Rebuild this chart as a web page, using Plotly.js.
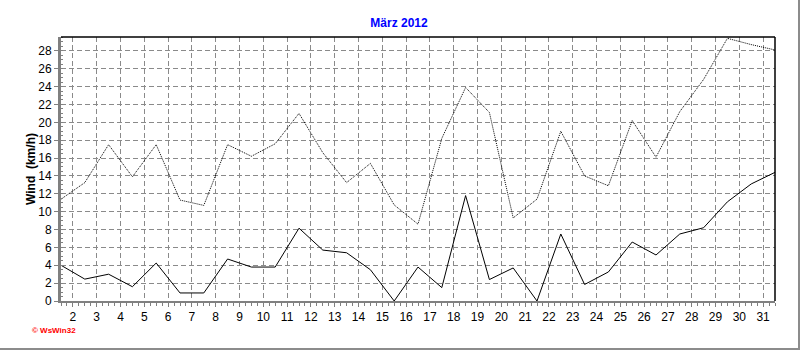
<!DOCTYPE html>
<html>
<head>
<meta charset="utf-8">
<script src="https://cdn.plot.ly/plotly-3.0.1.min.js"></script>
<style>
  body { margin: 0; background: #ffffff; }
  #chart { width: 798px; height: 348px; border-right: 2px solid #8c8c8c; border-bottom: 2px solid #8c8c8c; }
</style>
</head>
<body>
<div id="chart"></div>
<script>
// Days of March 2012 (values are daily, plotted at noon of each day)
const days = [1,2,3,4,5,6,7,8,9,10,11,12,13,14,15,16,17,18,19,20,21,22,23,24,25,26,27,28,29,30,31];
// Average wind speed (km/h) – solid line
const windAvg = [4.0,2.45,3.0,1.6,4.25,0.9,0.9,4.7,3.8,3.8,8.15,5.7,5.4,3.5,0.0,3.8,1.5,11.8,2.4,3.7,0.0,7.5,1.85,3.25,6.6,5.15,7.5,8.2,11.1,13.1,14.4];
// Gust (km/h) – dotted line
const windGust = [11.4,13.25,17.5,13.9,17.5,11.3,10.7,17.5,16.2,17.6,21.0,16.6,13.25,15.4,10.75,8.6,18.2,23.9,21.1,9.3,11.4,19.0,14.0,12.9,20.2,16.1,21.2,24.8,29.4,28.7,28.1];
// Tick labels (day starts)
const dayTicks = [2,3,4,5,6,7,8,9,10,11,12,13,14,15,16,17,18,19,20,21,22,23,24,25,26,27,28,29,30,31];
const dayTickText = dayTicks.map(String);
const yTicks = [0,2,4,6,8,10,12,14,16,18,20,22,24,26,28];

const xNoon = days.map(d => d + 0.5);

const traces = [
  { x: xNoon, y: windGust, type: 'scatter', mode: 'lines',
    line: { color: '#000000', width: 1, dash: '1px,1px' }, hoverinfo: 'skip' },
  { x: xNoon, y: windAvg, type: 'scatter', mode: 'lines',
    line: { color: '#000000', width: 1 }, hoverinfo: 'skip' }
];

const tickFont = { family: 'Liberation Sans, Arial, sans-serif', size: 12, color: '#000000' };

const layout = {
  width: 798, height: 348,
  margin: { l: 61, r: 23, t: 37, b: 47, pad: 0 },
  paper_bgcolor: '#ffffff', plot_bgcolor: '#ffffff',
  showlegend: false,
  title: { text: '<b>März 2012</b>', font: { family: 'Liberation Sans, Arial, sans-serif', size: 12, color: '#0000ff' },
           x: 0.5, xref: 'container', xanchor: 'center', y: 0.934, yref: 'container', yanchor: 'middle' },
  xaxis: {
    range: [1.5, 31.5], tickmode: 'array', tickvals: dayTicks, ticktext: dayTickText,
    ticks: 'outside', ticklen: 4, tickcolor: '#808080', tickwidth: 1,
    showgrid: true, gridcolor: '#8a8a8a', gridwidth: 1, griddash: '5px,3px',
    showline: true, linecolor: '#808080', linewidth: 2, zeroline: false,
    tickfont: tickFont,
    minor: { dtick: 0.25, tick0: 1.5, ticks: 'outside', ticklen: 3, tickcolor: '#808080', tickwidth: 1, showgrid: false },
    fixedrange: true
  },
  yaxis: {
    range: [0, 29.55], tickmode: 'array', tickvals: yTicks, ticktext: yTicks.map(String),
    ticks: 'outside', ticklen: 4, tickcolor: '#808080', tickwidth: 1,
    showgrid: true, gridcolor: '#8a8a8a', gridwidth: 1, griddash: '5px,3px',
    showline: true, linecolor: '#808080', linewidth: 3, zeroline: false,
    tickfont: tickFont,
    minor: { dtick: 0.5, tick0: 0, ticks: 'inside', ticklen: 2, tickcolor: '#808080', tickwidth: 1, showgrid: false },
    title: { text: '<b>Wind\u00a0 (km/h)</b>', font: { family: 'Liberation Sans, Arial, sans-serif', size: 12, color: '#000000' }, standoff: 0 },
    fixedrange: true
  },
  shapes: [
    { type: 'line', xref: 'paper', yref: 'paper', x0: 0, x1: 1, y0: 1, y1: 1, line: { color: '#000000', width: 1.5 }, layer: 'above' },
    { type: 'line', xref: 'paper', yref: 'paper', x0: 1, x1: 1, y0: 0, y1: 1, line: { color: '#000000', width: 1.5 }, layer: 'above' }
  ],
  annotations: [
    { text: '<b>© WsWin32</b>', xref: 'paper', yref: 'paper', x: -0.043, y: -0.11, xanchor: 'left', yanchor: 'middle',
      showarrow: false, font: { family: 'Liberation Sans, Arial, sans-serif', size: 8, color: '#ff0000' } }
  ]
};

Plotly.newPlot('chart', traces, layout, { displayModeBar: false, staticPlot: true });
</script>
</body>
</html>
